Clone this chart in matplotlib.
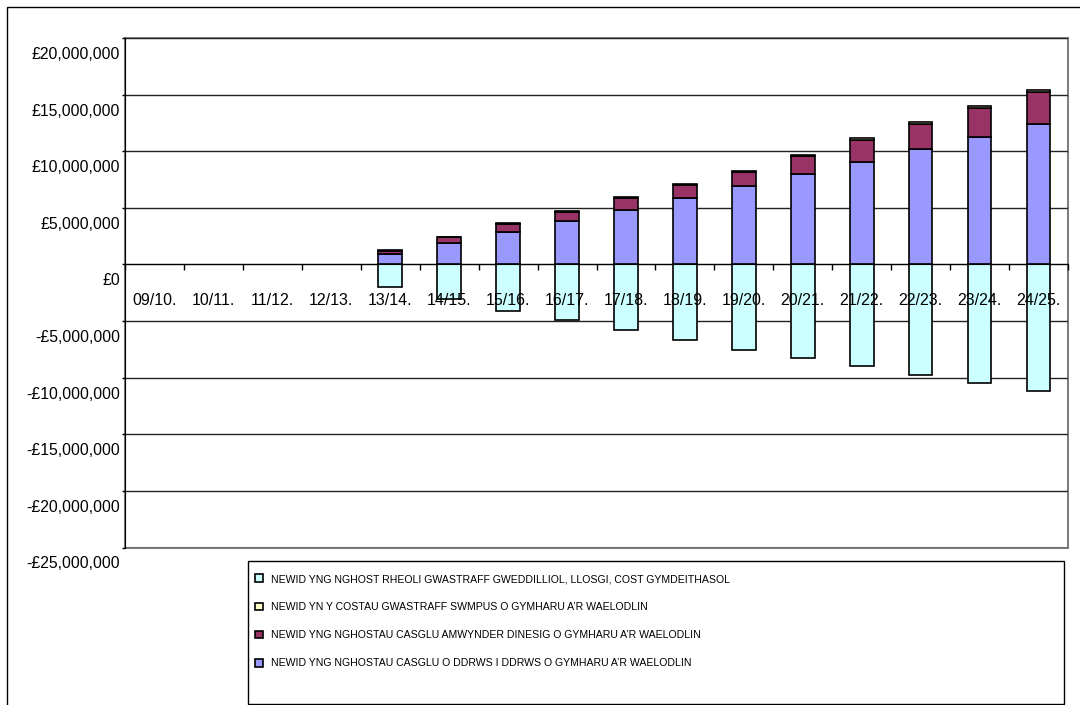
import matplotlib
matplotlib.use("Agg")
import matplotlib.pyplot as plt
import matplotlib.transforms as mtransforms
from matplotlib.patches import Rectangle
from matplotlib.ticker import FuncFormatter

plt.rcParams["font.family"] = ["Liberation Sans", "DejaVu Sans"]

years = ["09/10.", "10/11.", "11/12.", "12/13.", "13/14.", "14/15.", "15/16.", "16/17.",
         "17/18.", "18/19.", "19/20.", "20/21.", "21/22.", "22/23.", "23/24.", "24/25."]

# values in pounds
residual = [0, 0, 0, 0, -2.01e6, -3.04e6, -4.07e6, -4.92e6, -5.80e6, -6.66e6, -7.52e6,
            -8.25e6, -9.01e6, -9.77e6, -10.51e6, -11.22e6]
door_to_door = [0, 0, 0, 0, 0.90e6, 1.87e6, 2.85e6, 3.85e6, 4.85e6, 5.85e6, 6.92e6,
                7.98e6, 9.07e6, 10.16e6, 11.24e6, 12.39e6]
amenity = [0, 0, 0, 0, 0.32e6, 0.53e6, 0.73e6, 0.79e6, 1.02e6, 1.17e6, 1.24e6,
           1.56e6, 1.88e6, 2.23e6, 2.56e6, 2.85e6]
bulky = [0, 0, 0, 0, 0.03e6, 0.05e6, 0.07e6, 0.08e6, 0.10e6, 0.11e6, 0.12e6,
         0.14e6, 0.18e6, 0.20e6, 0.23e6, 0.21e6]

labels = [
    "NEWID YNG NGHOST RHEOLI GWASTRAFF GWEDDILLIOL, LLOSGI, COST GYMDEITHASOL",
    "NEWID YN Y COSTAU GWASTRAFF SWMPUS O GYMHARU A\u2019R WAELODLIN",
    "NEWID YNG NGHOSTAU CASGLU AMWYNDER DINESIG O GYMHARU A\u2019R WAELODLIN",
    "NEWID YNG NGHOSTAU CASGLU O DDRWS I DDRWS O GYMHARU A\u2019R WAELODLIN",
]
colors = ["#CCFFFF", "#FFFFCC", "#993366", "#9999FF"]

W, H = 1080, 705
fig = plt.figure(figsize=(W / 100, H / 100), dpi=100)
ax = fig.add_axes([125 / W, 1 - 547.5 / H, (1068 - 125) / W, (547.5 - 38) / H])

bw = 0.4


def draw(vals, color, bottom=None):
    # skip the empty years, they have no bar at all
    if bottom is None:
        bottom = [0] * len(vals)
    idx = [i for i, v in enumerate(vals) if v != 0]
    return ax.bar(idx, [vals[i] for i in idx], bw, bottom=[bottom[i] for i in idx],
                  color=color, edgecolor="black", linewidth=1.2, zorder=2)


b_res = draw(residual, colors[0])
b_d2d = draw(door_to_door, colors[3])
b_am = draw(amenity, colors[2], bottom=door_to_door)
top2 = [a + b for a, b in zip(door_to_door, amenity)]
b_bulky = draw(bulky, colors[1], bottom=top2)

ax.set_xlim(-0.5, len(years) - 0.5)
ax.set_ylim(-25e6, 20e6)
ax.set_yticks([v * 1e6 for v in range(-25, 21, 5)])
ax.yaxis.set_major_formatter(FuncFormatter(
    lambda v, p: ("-£{:,.0f}".format(-v) if v < 0 else "£{:,.0f}".format(v))))
ax.set_axisbelow(True)
ax.grid(axis="y", color="#222222", linewidth=1.0)
ax.tick_params(axis="y", length=2, width=1, pad=1.5, labelsize=11.3)

# x axis sits on zero
ax.spines["bottom"].set_position(("data", 0))
ax.spines["bottom"].set_zorder(3)
ax.set_xticks([i + 0.5 for i in range(-1, len(years))])
ax.set_xticklabels([])
ax.tick_params(axis="x", direction="out", length=4, width=1)
for s in ["top", "right"]:
    ax.spines[s].set_visible(False)
ax.spines["left"].set_color("black")
ax.add_patch(Rectangle((0, 0), 1, 1, transform=ax.transAxes, fill=False,
                       edgecolor="#808080", linewidth=1.5, clip_on=False, zorder=0))

# shift y labels below their gridline like the original
shift = mtransforms.ScaledTranslation(0, -15 / 100, fig.dpi_scale_trans)
for lab in ax.get_yticklabels():
    lab.set_transform(lab.get_transform() + shift)

lab_trans = mtransforms.offset_copy(ax.transData, fig=fig, y=-36, units="dots")
for i, yr in enumerate(years):
    ax.text(i, 0, yr, transform=lab_trans, ha="center", va="center",
            fontsize=11.5, zorder=5)

# legend box
fig.patches.append(Rectangle((248 / W, 1 - 704 / H), (1064 - 248) / W, (704 - 561) / H,
                             transform=fig.transFigure, fill=False, edgecolor="black",
                             linewidth=1.0))
# outer chart border
fig.patches.append(Rectangle((7 / W, -0.1), 1.2, 1.1 - 7 / H, transform=fig.transFigure,
                             fill=False, edgecolor="black", linewidth=1.0))

handles = [b_res, b_bulky, b_am, b_d2d]
fig.legend(handles, labels, loc="upper left", bbox_to_anchor=(255 / W, 1 - 574 / H),
           frameon=False, fontsize=7.6, handlelength=0.75, handleheight=0.75,
           handletextpad=0.75, labelspacing=1.72, borderaxespad=0, borderpad=0)

fig.savefig("out.png", dpi=100)
